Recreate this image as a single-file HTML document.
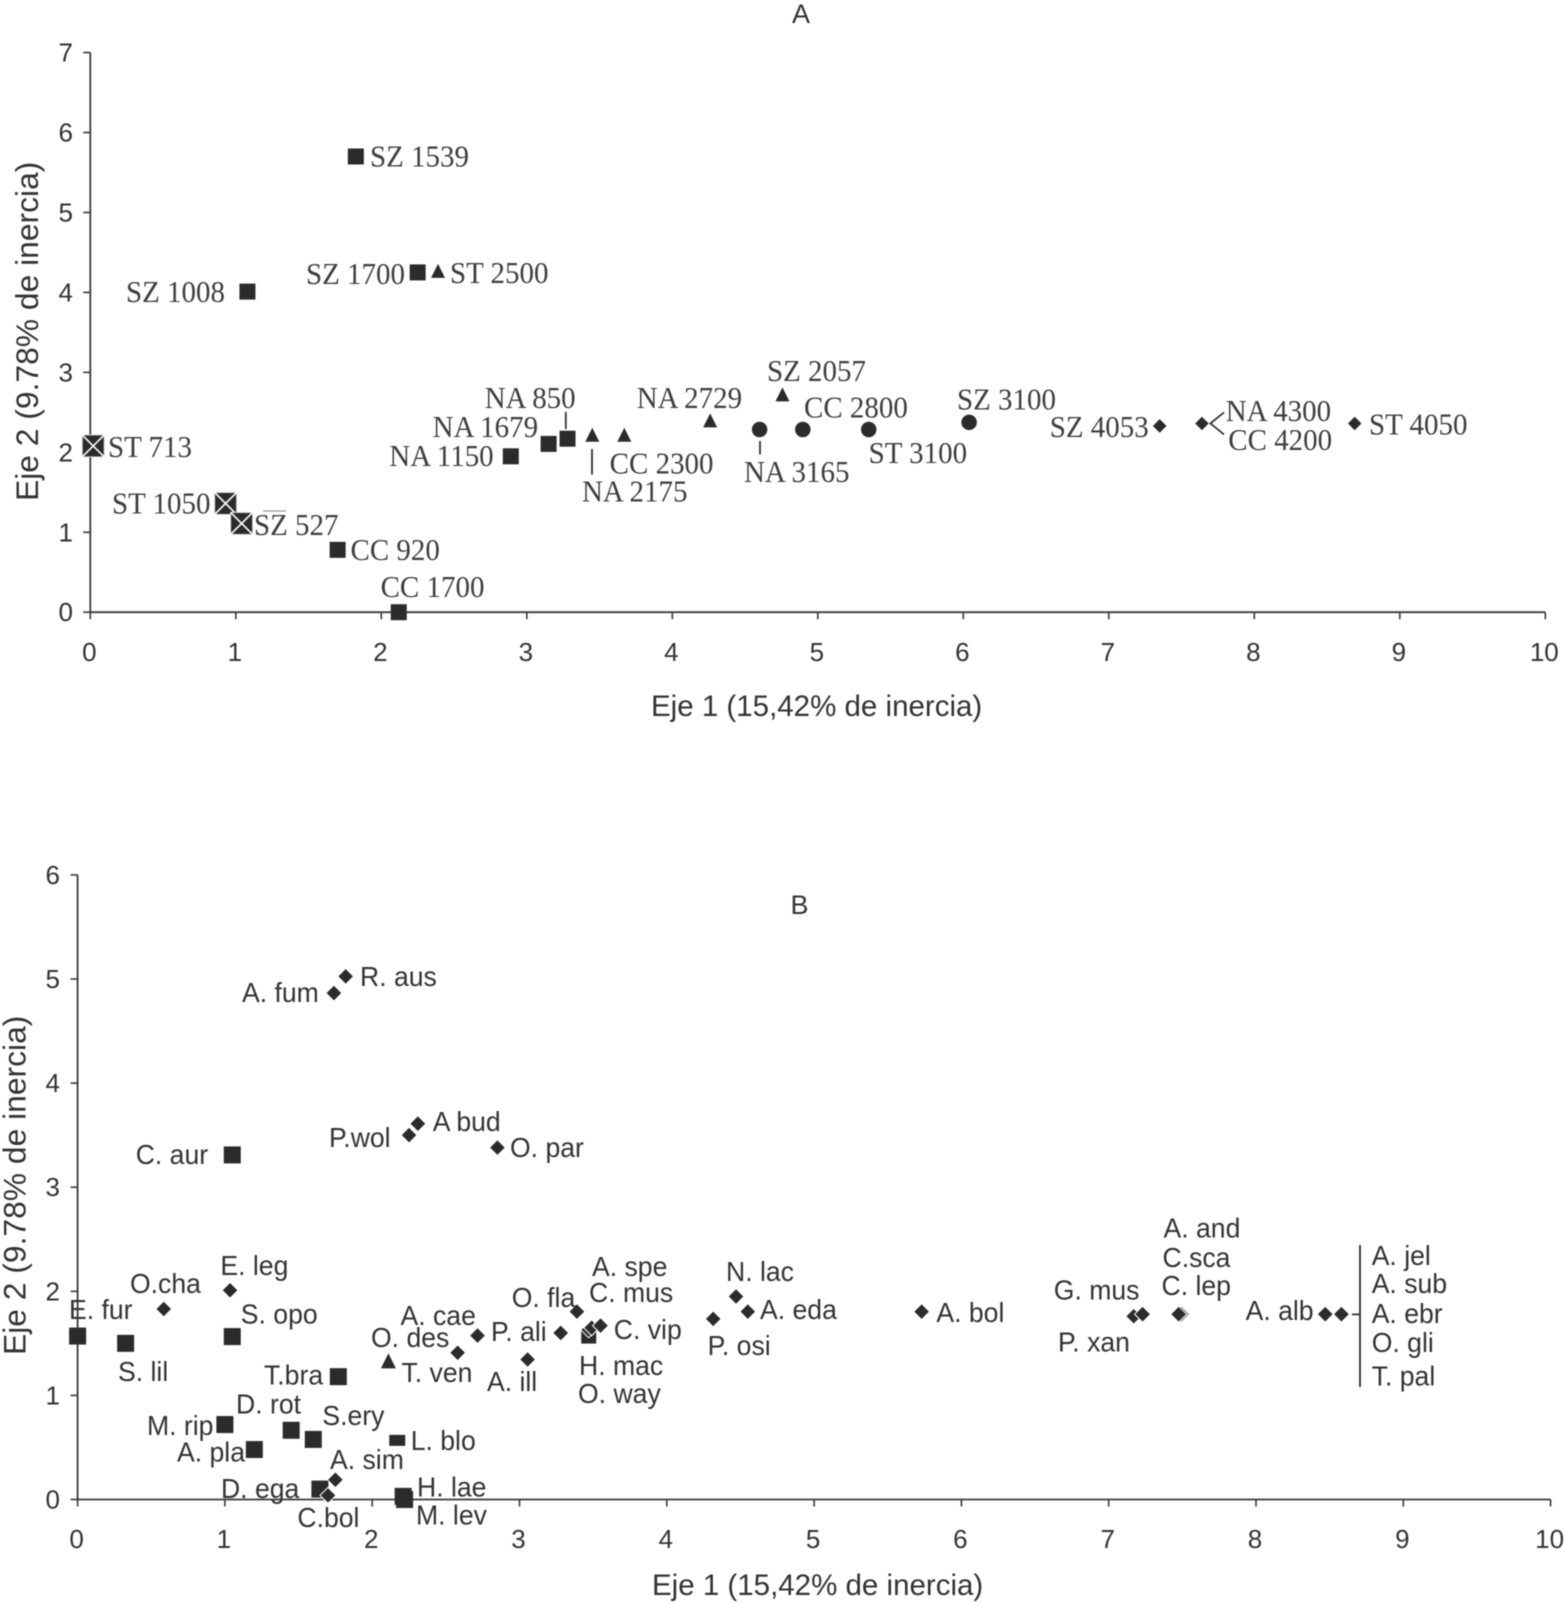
<!DOCTYPE html>
<html lang="es">
<head>
<meta charset="utf-8">
<title>Análisis de correspondencia A y B</title>
<style>
html,body{margin:0;padding:0;background:#fff;}
svg{display:block;filter:blur(.4px);}
.serif{font-family:"Liberation Serif",serif;font-size:31px;fill:#3d3d3d;transform-box:fill-box;transform-origin:0 0;transform:scaleX(.935);}
.sans{font-family:"Liberation Sans",sans-serif;font-size:28px;fill:#333;transform-box:fill-box;transform-origin:0 0;transform:scaleX(.95);}
.tick-label{font-family:"Liberation Sans",sans-serif;font-size:26px;fill:#333;}
.axis-title{font-family:"Liberation Sans",sans-serif;font-size:29.5px;fill:#333;}
.axis-title-y{font-size:31.8px;}
.conn{stroke:#333;stroke-width:1.8;fill:none;}
</style>
</head>
<body>
<svg id="figure" width="1564" height="1604" viewBox="0 0 1564 1604" xmlns="http://www.w3.org/2000/svg">
<rect width="1564" height="1604" fill="#fff"/>
<g id="marksA"></g>
<g id="marksB"></g>

<g>
<text class="axis-title" style="font-size:27px" x="792" y="23">A</text>
<text class="axis-title" x="651" y="716">Eje 1 (15,42% de inercia)</text>
<text class="axis-title axis-title-y" transform="translate(38 501) rotate(-90)">Eje 2 (9.78% de inercia)</text>
<text class="serif" x="370" y="166.5">SZ 1539</text>
<text class="serif" x="126" y="302">SZ 1008</text>
<text class="serif" x="306" y="284">SZ 1700</text>
<text class="serif" x="450" y="283">ST 2500</text>
<text class="serif" x="484.7" y="408">NA 850</text>
<text class="serif" x="636.7" y="408">NA 2729</text>
<text class="serif" x="432.7" y="437">NA 1679</text>
<text class="serif" x="389.3" y="466">NA 1150</text>
<text class="serif" x="609.7" y="473.7">CC 2300</text>
<text class="serif" x="582" y="501.4">NA 2175</text>
<text class="serif" x="108" y="457">ST 713</text>
<text class="serif" x="112" y="513.4">ST 1050</text>
<text class="serif" x="254" y="535">SZ 527</text>
<text class="serif" x="350.5" y="560">CC 920</text>
<text class="serif" x="380.6" y="597">CC 1700</text>
<text class="serif" x="767" y="381">SZ 2057</text>
<text class="serif" x="804" y="417.7">CC 2800</text>
<text class="serif" x="957" y="409.6">SZ 3100</text>
<text class="serif" x="868.6" y="463">ST 3100</text>
<text class="serif" x="744" y="482">NA 3165</text>
<text class="serif" x="1049.7" y="437">SZ 4053</text>
<text class="serif" x="1225.7" y="421">NA 4300</text>
<text class="serif" x="1228.3" y="450">CC 4200</text>
<text class="serif" x="1369" y="434.4">ST 4050</text>
<path class="conn" d="M565.8 412V429"/>
<path class="conn" d="M592 449V474.6"/>
<path class="conn" d="M760 441V454.5"/>
<path class="conn" d="M1224 412.4L1210.4 423.4L1224 434.4"/>
<path d="M263 511H286" stroke="#999" stroke-width="1.2"/>
</g>

<g>
<text class="axis-title" style="font-size:27px" x="790.5" y="914">B</text>
<text class="axis-title" x="652" y="1595">Eje 1 (15,42% de inercia)</text>
<text class="axis-title axis-title-y" transform="translate(25.5 1355) rotate(-90)">Eje 2 (9.78% de inercia)</text>
<text class="sans" x="360" y="986">R. aus</text>
<text class="sans" x="242" y="1002">A. fum</text>
<text class="sans" x="432.7" y="1131">A bud</text>
<text class="sans" x="329" y="1147">P.wol</text>
<text class="sans" x="510" y="1157">O. par</text>
<text class="sans" x="135.7" y="1164">C. aur</text>
<text class="sans" x="220.4" y="1275">E. leg</text>
<text class="sans" x="130" y="1293">O.cha</text>
<text class="sans" x="69" y="1319">E. fur</text>
<text class="sans" x="240.8" y="1323.6">S. opo</text>
<text class="sans" x="118" y="1381">S. lil</text>
<text class="sans" x="400.5" y="1325">A. cae</text>
<text class="sans" x="371" y="1347">O. des</text>
<text class="sans" x="491" y="1341">P. ali</text>
<text class="sans" x="511.7" y="1307">O. fla</text>
<text class="sans" x="592" y="1276">A. spe</text>
<text class="sans" x="589" y="1302">C. mus</text>
<text class="sans" x="613.8" y="1339">C. vip</text>
<text class="sans" x="579" y="1375">H. mac</text>
<text class="sans" x="578" y="1403">O. way</text>
<text class="sans" x="487" y="1391">A. ill</text>
<text class="sans" x="401.5" y="1382">T. ven</text>
<text class="sans" x="264" y="1384.6">T.bra</text>
<text class="sans" x="236" y="1413.5">D. rot</text>
<text class="sans" x="147" y="1435">M. rip</text>
<text class="sans" x="322.4" y="1425">S.ery</text>
<text class="sans" x="177" y="1461.5">A. pla</text>
<text class="sans" x="410.7" y="1450">L. blo</text>
<text class="sans" x="330" y="1469">A. sim</text>
<text class="sans" x="221" y="1498">D. ega</text>
<text class="sans" x="417" y="1496.6">H. lae</text>
<text class="sans" x="416" y="1524.5">M. lev</text>
<text class="sans" x="297.4" y="1527">C.bol</text>
<text class="sans" x="707.6" y="1355">P. osi</text>
<text class="sans" x="726" y="1281">N. lac</text>
<text class="sans" x="760" y="1319">A. eda</text>
<text class="sans" x="936.4" y="1322">A. bol</text>
<text class="sans" x="1053.8" y="1299.5">G. mus</text>
<text class="sans" x="1058" y="1351.5">P. xan</text>
<text class="sans" x="1163.5" y="1237.5">A. and</text>
<text class="sans" x="1162.5" y="1267">C.sca</text>
<text class="sans" x="1161.5" y="1295">C. lep</text>
<text class="sans" x="1245.6" y="1320">A. alb</text>
<text class="sans" x="1371.7" y="1265">A. jel</text>
<text class="sans" x="1371.7" y="1293">A. sub</text>
<text class="sans" x="1371.7" y="1323">A. ebr</text>
<text class="sans" x="1371.7" y="1352">O. gli</text>
<text class="sans" x="1371.7" y="1385.6">T. pal</text>
<path class="conn" d="M1360 1245V1387M1352 1314.4H1360"/>
</g>
</svg>

<script>
// Shared tick values
const aXTicks = [0,1,2,3,4,5,6,7,8,9,10];
const aYTicks = [0,1,2,3,4,5,6,7];
const bXTicks = [0,1,2,3,4,5,6,7,8,9,10];
const bYTicks = [0,1,2,3,4,5,6];

// Chart A — sites
const aSquareNames = ['SZ 1539','SZ 1008','SZ 1700','NA 1150','NA 1679','NA 850','CC 920','CC 1700'];
const aSquareX = [1.825,1.08,2.25,2.89,3.15,3.28,1.70,2.12];
const aSquareY = [5.70,4.01,4.25,1.95,2.105,2.17,0.78,0];

const aCrossNames = ['ST 713','ST 1050','SZ 527'];
const aCrossX = [0.02,0.93,1.04];
const aCrossY = [2.08,1.36,1.11];

const aTriangleNames = ['ST 2500','NA 2175','CC 2300','NA 2729','SZ 2057'];
const aTriangleX = [2.39,3.45,3.67,4.26,4.757];
const aTriangleY = [4.26,2.21,2.21,2.39,2.715];

const aCircleNames = ['NA 3165','CC 2800','ST 3100','SZ 3100'];
const aCircleX = [4.60,4.897,5.35,6.04];
const aCircleY = [2.285,2.285,2.285,2.375];

const aDiamondNames = ['SZ 4053','NA 4300 CC 4200','ST 4050'];
const aDiamondX = [7.35,7.64,8.69];
const aDiamondY = [2.33,2.36,2.36];

// Chart B — species
const bSquareNames = ['E. fur','S. lil','S. opo','C. aur','T. bra','M. rip','D. rot','S. ery','A. pla','H. lae','M. lev','D. ega','H. mac'];
const bSquareX = [0,0.326,1.05,1.05,1.77,1.0,1.45,1.60,1.20,2.21,2.22,1.645,3.47];
const bSquareY = [1.57,1.50,1.565,3.31,1.18,0.72,0.665,0.577,0.48,0.03,0,0.10,1.57];

const bFlatNames = ['L. blo'];
const bFlatX = [2.17];
const bFlatY = [0.568];

const bTriangleNames = ['T. ven'];
const bTriangleX = [2.11];
const bTriangleY = [1.325];

const bDiamondNames = ['R. aus','A. fum','A. bud','P. wol','O. par','E. leg','O. cha','A. cae','O. des','A. ill','P. ali','O. fla','A. spe','C. mus','C. vip','P. osi','N. lac','A. eda','C. bol','A. sim','A. bol','P. xan','G. mus','C. sca','A. and','C. lep','A. alb','A. jel'];
const bDiamondX = [1.82,1.74,2.31,2.25,2.85,1.035,0.585,2.715,2.58,3.055,3.28,3.39,3.47,3.49,3.55,4.315,4.47,4.55,1.75,1.70,5.73,7.17,7.23,7.50,7.49,7.475,8.47,8.58];
const bDiamondY = [5.025,4.865,3.61,3.50,3.38,2.01,1.83,1.575,1.41,1.345,1.60,1.805,1.63,1.65,1.67,1.735,1.95,1.805,0.19,0.04,1.805,1.76,1.78,1.78,1.78,1.78,1.78,1.78];

const NS = 'http://www.w3.org/2000/svg';
const INK = '#2b2b2b';

function ax(v){ return 90.3 + v * 145.5; }
function ay(v){ return 612.2 - v * 79.95; }
function bx(v){ return 77.6 + v * 147.3; }
function by(v){ return 1499.5 - v * 104.1; }

function slug(s){ return s.toLowerCase().replace(/[^a-z0-9]+/g,'-').replace(/^-|-$/g,''); }

function make(parent, tag, name, attrs){
  const el = document.createElementNS(NS, tag);
  
  
  for (const k in attrs) { el.setAttribute(k, attrs[k]); }
  parent.appendChild(el);
  return el;
}

function drawAxes(g, prefix, sx, sy, xTicks, yTicks, xLabelY, yLabelX){
  const x0 = sx(xTicks[0]), x1 = sx(xTicks[xTicks.length-1]);
  const y0 = sy(yTicks[0]), y1 = sy(yTicks[yTicks.length-1]);
  make(g, 'line', prefix + '-x-axis', {x1:x0, y1:y0, x2:x1, y2:y0, stroke:'#3a3a3a', 'stroke-width':1.8});
  make(g, 'line', prefix + '-y-axis', {x1:x0, y1:y0, x2:x0, y2:y1, stroke:'#3a3a3a', 'stroke-width':1.8});
  xTicks.forEach(function(t){
    make(g, 'line', prefix + '-x-tick-' + t, {x1:sx(t), y1:y0, x2:sx(t), y2:y0 + 7, stroke:'#3a3a3a', 'stroke-width':1.6});
    const label = make(g, 'text', prefix + '-x-tick-label-' + t, {x:sx(t) - 1, y:xLabelY, 'text-anchor':'middle', class:'tick-label'});
    label.textContent = String(t);
  });
  yTicks.forEach(function(t){
    make(g, 'line', prefix + '-y-tick-' + t, {x1:x0 - 7, y1:sy(t), x2:x0, y2:sy(t), stroke:'#3a3a3a', 'stroke-width':1.6});
    const label = make(g, 'text', prefix + '-y-tick-label-' + t, {x:yLabelX, y:sy(t) + 9, 'text-anchor':'end', class:'tick-label'});
    label.textContent = String(t);
  });
}

function square(g, name, x, y, s){
  make(g, 'rect', name, {x:x - s/2, y:y - s/2, width:s, height:s, fill:INK});
}
function flatRect(g, name, x, y, w, h){
  make(g, 'rect', name, {x:x - w/2, y:y - h/2, width:w, height:h, fill:INK});
}
function crossSquare(g, name, x, y, s){
  make(g, 'rect', name, {x:x - s/2, y:y - s/2, width:s, height:s, fill:INK, stroke:'#ddd', 'stroke-width':1});
  make(g, 'path', name + '-x', {d:'M' + (x-s/2) + ' ' + (y-s/2) + 'L' + (x+s/2) + ' ' + (y+s/2) + 'M' + (x+s/2) + ' ' + (y-s/2) + 'L' + (x-s/2) + ' ' + (y+s/2), stroke:'#fff', 'stroke-width':1.6, fill:'none'});
}
function triangle(g, name, x, y, s){
  make(g, 'path', name, {d:'M' + x + ' ' + (y - s*0.55) + 'L' + (x + s/2) + ' ' + (y + s*0.45) + 'L' + (x - s/2) + ' ' + (y + s*0.45) + 'Z', fill:INK});
}
function circle(g, name, x, y, s){
  make(g, 'circle', name, {cx:x, cy:y, r:s/2, fill:INK});
}
function diamond(g, name, x, y, s){
  make(g, 'path', name, {d:'M' + x + ' ' + (y - s/2) + 'L' + (x + s/2) + ' ' + y + 'L' + x + ' ' + (y + s/2) + 'L' + (x - s/2) + ' ' + y + 'Z', fill:INK, stroke:'#fff', 'stroke-width':1});
}

const gA = document.getElementById('marksA');
drawAxes(gA, 'chart-a', ax, ay, aXTicks, aYTicks, 661, 73);
aSquareNames.forEach(function(n,i){ square(gA, 'point-' + slug(n), ax(aSquareX[i]), ay(aSquareY[i]), 16); });
aCrossNames.forEach(function(n,i){ crossSquare(gA, 'point-' + slug(n), ax(aCrossX[i]), ay(aCrossY[i]), 22); });
aTriangleNames.forEach(function(n,i){ triangle(gA, 'point-' + slug(n), ax(aTriangleX[i]), ay(aTriangleY[i]), 14); });
aCircleNames.forEach(function(n,i){ circle(gA, 'point-' + slug(n), ax(aCircleX[i]), ay(aCircleY[i]), 15.5); });
aDiamondNames.forEach(function(n,i){ diamond(gA, 'point-' + slug(n), ax(aDiamondX[i]), ay(aDiamondY[i]), 15); });

const gB = document.getElementById('marksB');
drawAxes(gB, 'chart-b', bx, by, bXTicks, bYTicks, 1548, 60);
bSquareNames.forEach(function(n,i){ square(gB, 'point-' + slug(n), bx(bSquareX[i]), by(bSquareY[i]), n === 'H. mac' ? 15 : 17); });
bFlatNames.forEach(function(n,i){ flatRect(gB, 'point-' + slug(n), bx(bFlatX[i]), by(bFlatY[i]), 16, 11); });
bTriangleNames.forEach(function(n,i){ triangle(gB, 'point-' + slug(n), bx(bTriangleX[i]), by(bTriangleY[i]), 15); });
bDiamondNames.forEach(function(n,i){ diamond(gB, 'point-' + slug(n), bx(bDiamondX[i]), by(bDiamondY[i]), 16); });
</script>
</body>
</html>
